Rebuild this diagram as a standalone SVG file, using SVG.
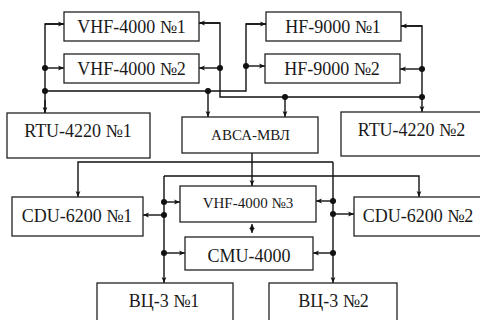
<svg xmlns="http://www.w3.org/2000/svg" width="480" height="320" viewBox="0 0 480 320">
<style>
.box{fill:#fff;stroke:#222;stroke-width:1.3}
.t{font-family:"Liberation Serif","Times New Roman",serif;font-size:18px;fill:#1a1a1a;text-anchor:middle}
.s{font-size:15px}
.ln{fill:none;stroke:#111;stroke-width:1.4}
.ar{fill:none;stroke:#111;stroke-width:1.4;marker-end:url(#ah)}
.dot{fill:#111}
</style>
<defs>
<marker id="ah" viewBox="0 0 8 8" refX="8" refY="4" markerWidth="6" markerHeight="6" markerUnits="userSpaceOnUse" orient="auto">
<path d="M0,0.8 L8,4 L0,7.2 L2,4 Z" fill="#111"/>
</marker>
<marker id="ah2" viewBox="0 0 8 8" refX="8" refY="4" markerWidth="5" markerHeight="7" markerUnits="userSpaceOnUse" orient="auto-start-reverse">
<path d="M0,0 L8,4 L0,8 Z" fill="#111"/>
</marker>
</defs>
<g id="connectors">
<path class="ln" d="M45,113 V24 H64"/>
<path class="ln" d="M45,91 H246 V24 H266"/>
<path class="ar" d="M45,24 H64"/>
<path class="ar" d="M45,68 H64"/>
<path class="ar" d="M45,100 V113"/>
<path class="ar" d="M208,91 V117"/>
<path class="ar" d="M246,24 H266"/>
<path class="ar" d="M246,66 H265"/>
<path class="ln" d="M199,23 H220 V97 H422 V26 H401"/>
<path class="ar" d="M220,23 H199"/>
<path class="ar" d="M220,68 H199"/>
<path class="ar" d="M285,97 V117"/>
<path class="ar" d="M422,26 H401"/>
<path class="ar" d="M422,69 H400"/>
<path class="ar" d="M422,97 V112"/>
<path class="ar" d="M252,153 V186"/>
<path class="ar" d="M333,162 H78 V197"/>
<path class="ar" d="M333,162 V283"/>
<path class="ar" d="M333,201 H316"/>
<path class="ar" d="M333,214 H354"/>
<path class="ar" d="M333,253 H313"/>
<path class="ar" d="M164,176 H419 V197"/>
<path class="ar" d="M164,176 V283"/>
<path class="ar" d="M164,202 H180"/>
<path class="ar" d="M164,215 H143"/>
<path class="ar" d="M164,253 H185"/>
<path d="M252,224 V233" fill="none" stroke="#111" stroke-width="1.2" marker-start="url(#ah2)" marker-end="url(#ah2)"/>
<g class="dot">
<circle cx="45" cy="68" r="3"/><circle cx="45" cy="91" r="3"/><circle cx="208" cy="91" r="3"/><circle cx="246" cy="66" r="3"/>
<circle cx="220" cy="68" r="3"/><circle cx="285" cy="97" r="3"/><circle cx="422" cy="69" r="3"/><circle cx="422" cy="97" r="3"/>
<circle cx="333" cy="201" r="3"/><circle cx="333" cy="214" r="3"/><circle cx="333" cy="253" r="3"/>
<circle cx="164" cy="202" r="3"/><circle cx="164" cy="215" r="3"/><circle cx="164" cy="253" r="3"/>
</g>
</g>
<g id="vhf1"><rect class="box" x="64" y="12" width="135" height="29"/><text class="t" x="131.5" y="33">VHF-4000 №1</text></g>
<g id="vhf2"><rect class="box" x="64" y="54" width="135" height="29"/><text class="t" x="131.5" y="75">VHF-4000 №2</text></g>
<g id="hf1"><rect class="box" x="266" y="12" width="135" height="29"/><text class="t" x="333" y="33">HF-9000 №1</text></g>
<g id="hf2"><rect class="box" x="265" y="54" width="135" height="29"/><text class="t" x="332" y="75">HF-9000 №2</text></g>
<g id="rtu1"><rect class="box" x="7" y="113" width="143" height="45"/><text class="t" x="78" y="137">RTU-4220 №1</text></g>
<g id="rtu2"><rect class="box" x="341" y="112" width="145" height="44"/><text class="t" x="411.5" y="136">RTU-4220 №2</text></g>
<g id="abca"><rect class="box" x="182" y="117" width="136" height="36"/><text class="t s" x="250.5" y="140">АВСА-МВЛ</text></g>
<g id="cdu1"><rect class="box" x="12" y="197" width="131" height="39"/><text class="t" x="77" y="222">CDU-6200 №1</text></g>
<g id="cdu2"><rect class="box" x="354" y="197" width="132" height="39"/><text class="t" x="418" y="222">CDU-6200 №2</text></g>
<g id="vhf3"><rect class="box" x="180" y="186" width="136" height="36"/><text class="t s" x="248" y="208">VHF-4000 №3</text></g>
<g id="cmu"><rect class="box" x="185" y="237" width="128" height="33"/><text class="t" x="249" y="262">CMU-4000</text></g>
<g id="vc1"><rect class="box" x="97" y="283" width="136" height="50"/><text class="t" x="164" y="307">ВЦ-3 №1</text></g>
<g id="vc2"><rect class="box" x="269" y="283" width="128" height="50"/><text class="t" x="333.5" y="307">ВЦ-3 №2</text></g>
</svg>
